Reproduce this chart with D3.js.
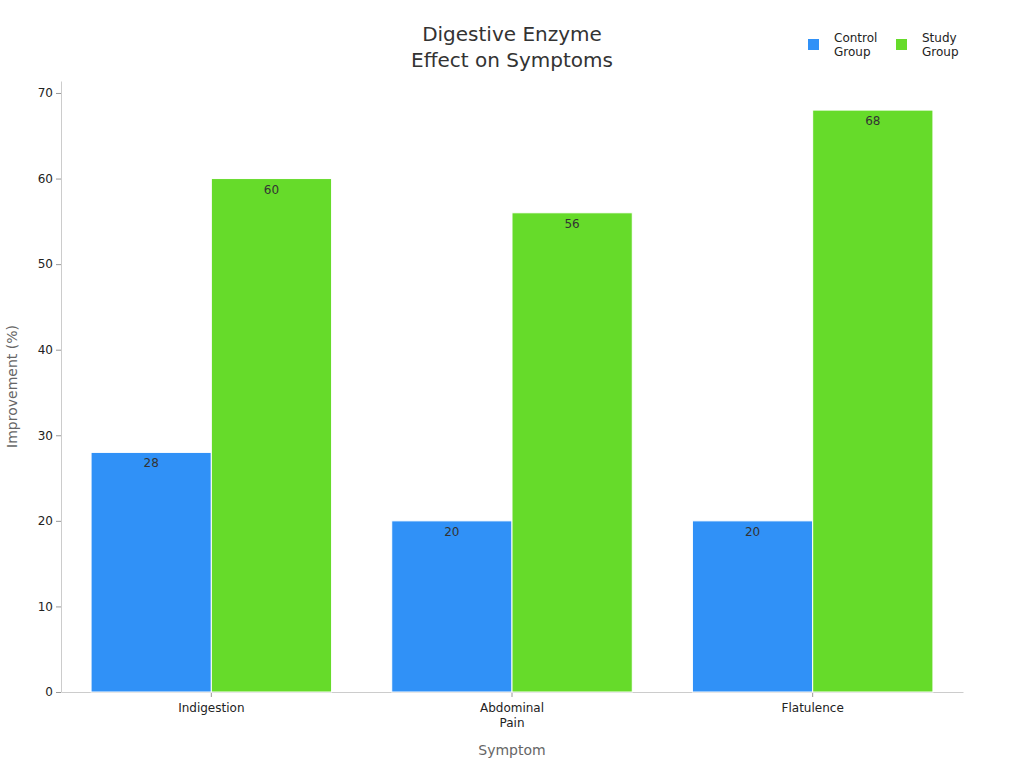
<!DOCTYPE html>
<html>
<head>
<meta charset="utf-8">
<script src="https://cdn.jsdelivr.net/npm/d3@7"></script>
<style>
  body { margin: 0; background: #fff; }
  svg text { font-family: "DejaVu Sans", sans-serif; }
</style>
</head>
<body>
<div id="chart"></div>
<script>
// chart data
var categories = ["Indigestion", "Abdominal Pain", "Flatulence"];
var categoryLines = [["Indigestion"], ["Abdominal", "Pain"], ["Flatulence"]];
var seriesNames = ["Control Group", "Study Group"];
var controlValues = [28, 20, 20];
var studyValues = [60, 56, 68];
var yTicks = [0, 10, 20, 30, 40, 50, 60, 70];
var seriesColors = ["#3091f7", "#66db2a"];

var width = 1024, height = 768;
var margin = {top: 81, right: 61, bottom: 76, left: 61};

var svg = d3.select("#chart").append("svg")
    .attr("width", width)
    .attr("height", height);

var x0 = d3.scaleBand()
    .domain(categories)
    .range([margin.left, width - margin.right])
    .padding(0);

var x1 = d3.scaleBand()
    .domain(seriesNames)
    .range([0, x0.bandwidth()])
    .paddingInner(0)
    .paddingOuter(0.25);

var y = d3.scaleLinear()
    .domain([0, 71.4])
    .range([height - margin.bottom, margin.top]);

// y axis
var yAxis = svg.append("g")
    .attr("transform", "translate(" + margin.left + ",0)")
    .call(d3.axisLeft(y).tickValues(yTicks).tickSize(5).tickSizeOuter(0));
yAxis.select(".domain").attr("stroke", "#ccc");
yAxis.selectAll(".tick line").attr("stroke", "#999");
yAxis.selectAll(".tick text")
    .attr("fill", "#222")
    .style("font-size", "12px");

// x axis
var xAxis = svg.append("g")
    .attr("transform", "translate(0," + (height - margin.bottom) + ")")
    .call(d3.axisBottom(x0).tickSize(5).tickSizeOuter(0));
xAxis.select(".domain").attr("stroke", "#ccc");
xAxis.selectAll(".tick line").attr("stroke", "#999");
xAxis.selectAll(".tick text").remove();
xAxis.selectAll(".tick").each(function(d, i){
    var t = d3.select(this).append("text")
        .attr("fill", "#222")
        .attr("text-anchor", "middle")
        .attr("y", 20)
        .style("font-size", "12px");
    categoryLines[i].forEach(function(line, j){
        t.append("tspan").attr("x", 0).attr("dy", j === 0 ? 0 : 15).text(line);
    });
});

// bars
var groups = svg.append("g").selectAll("g")
    .data(categories)
    .join("g")
    .attr("transform", function(d){ return "translate(" + x0(d) + ",0)"; });

var seriesValues = [controlValues, studyValues];
groups.selectAll("rect")
    .data(function(d, i){
        return seriesNames.map(function(s, k){ return {series: s, value: seriesValues[k][i], k: k}; });
    })
    .join("rect")
    .attr("x", function(d){ return x1(d.series); })
    .attr("y", function(d){ return y(d.value); })
    .attr("width", x1.bandwidth())
    .attr("height", function(d){ return y(0) - y(d.value); })
    .attr("fill", function(d){ return seriesColors[d.k]; })
    .attr("stroke", "#fff")
    .attr("stroke-width", 1);

groups.selectAll("text.val")
    .data(function(d, i){
        return seriesNames.map(function(s, k){ return {series: s, value: seriesValues[k][i]}; });
    })
    .join("text")
    .attr("class", "val")
    .attr("x", function(d){ return x1(d.series) + x1.bandwidth() / 2; })
    .attr("y", function(d){ return y(d.value) + 15; })
    .attr("text-anchor", "middle")
    .attr("fill", "#333")
    .style("font-size", "12px")
    .text(function(d){ return d.value; });

// title
var title = svg.append("text")
    .attr("x", width / 2)
    .attr("y", 41)
    .attr("text-anchor", "middle")
    .attr("fill", "#333")
    .style("font-size", "20px");
title.append("tspan").attr("x", width / 2).text("Digestive Enzyme");
title.append("tspan").attr("x", width / 2).attr("dy", 26).text("Effect on Symptoms");

// axis titles
svg.append("text")
    .attr("transform", "translate(17," + ((margin.top + height - margin.bottom) / 2) + ") rotate(-90)")
    .attr("text-anchor", "middle")
    .attr("fill", "#666")
    .style("font-size", "14px")
    .text("Improvement (%)");

svg.append("text")
    .attr("x", (margin.left + width - margin.right) / 2)
    .attr("y", 755)
    .attr("text-anchor", "middle")
    .attr("fill", "#666")
    .style("font-size", "14px")
    .text("Symptom");

// legend
var legendX = [808, 896];
var legend = svg.append("g").selectAll("g")
    .data(seriesNames)
    .join("g")
    .attr("transform", function(d, i){ return "translate(" + legendX[i] + ",39)"; });
legend.append("rect")
    .attr("width", 11).attr("height", 11)
    .attr("fill", function(d, i){ return seriesColors[i]; });
legend.append("text")
    .attr("x", 26)
    .attr("y", 3)
    .attr("fill", "#222")
    .style("font-size", "12px")
    .each(function(d){
        var t = d3.select(this);
        d.split(" ").forEach(function(w, j){
            t.append("tspan").attr("x", 26).attr("dy", j === 0 ? 0 : 14).text(w);
        });
    });
</script>
</body>
</html>
